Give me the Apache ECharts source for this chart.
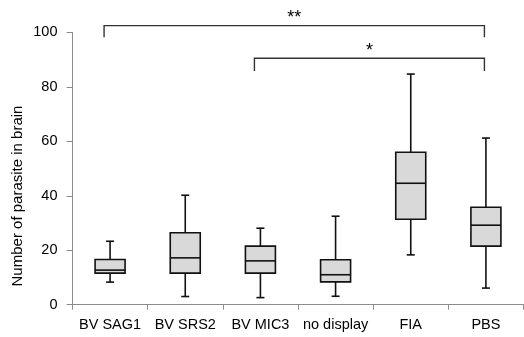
<!DOCTYPE html>
<html>
<head>
<meta charset="utf-8">
<script src="https://cdn.jsdelivr.net/npm/echarts@6/dist/echarts.min.js"></script>
<style>html,body{margin:0;padding:0;background:#fff}#c{width:524px;height:337px}</style>
</head>
<body>
<div id="c"></div>
<script>
const categories = ['BV SAG1', 'BV SRS2', 'BV MIC3', 'no display', 'FIA', 'PBS'];
const mins    = [8.3, 3.0, 2.6, 3.1, 18.3, 6.1];
const q1s     = [11.6, 11.6, 11.6, 8.4, 31.4, 21.5];
const medians = [12.7, 17.2, 16.1, 11.0, 44.6, 29.2];
const q3s     = [16.6, 26.4, 21.5, 16.5, 56.0, 35.8];
const maxs    = [23.3, 40.2, 28.1, 32.5, 84.7, 61.2];
const yTicks  = [0, 20, 40, 60, 80, 100];
const brackets = [
  { from: 'BV SAG1', to: 'PBS', y: 102.5, drop: 98.2, label: '**' },
  { from: 'BV MIC3', to: 'PBS', y: 90.5, drop: 85.8, label: '*' }
];
const yTitle = 'Number of parasite in brain';

const FONT = 'Liberation Sans, Arial, sans-serif';
const chart = echarts.init(document.getElementById('c'), null, { renderer: 'canvas' });

const boxData = categories.map((c, i) => [i, mins[i], q1s[i], medians[i], q3s[i], maxs[i]]);
const bracketData = brackets.map(b => [categories.indexOf(b.from), categories.indexOf(b.to), b.y, b.drop, b.label]);

function renderBox(params, api) {
  const i = api.value(0);
  const pMin = api.coord([i, api.value(1)]);
  const pQ1 = api.coord([i, api.value(2)]);
  const pMed = api.coord([i, api.value(3)]);
  const pQ3 = api.coord([i, api.value(4)]);
  const pMax = api.coord([i, api.value(5)]);
  const cx = pMin[0];
  const hw = 15, cap = 4;
  const ls = { stroke: '#111', lineWidth: 1.6, fill: null };
  return {
    type: 'group',
    children: [
      { type: 'line', shape: { x1: cx, y1: pMin[1], x2: cx, y2: pQ1[1] }, style: ls },
      { type: 'line', shape: { x1: cx, y1: pQ3[1], x2: cx, y2: pMax[1] }, style: ls },
      { type: 'line', shape: { x1: cx - cap, y1: pMin[1], x2: cx + cap, y2: pMin[1] }, style: ls },
      { type: 'line', shape: { x1: cx - cap, y1: pMax[1], x2: cx + cap, y2: pMax[1] }, style: ls },
      { type: 'rect', shape: { x: cx - hw, y: pQ3[1], width: hw * 2, height: pQ1[1] - pQ3[1] },
        style: { fill: '#d9d9d9', stroke: '#111', lineWidth: 1.6 } },
      { type: 'line', shape: { x1: cx - hw, y1: pMed[1], x2: cx + hw, y2: pMed[1] }, style: ls }
    ]
  };
}

function renderBracket(params, api) {
  const a = api.coord([api.value(0), api.value(2)]);
  const b = api.coord([api.value(1), api.value(2)]);
  const bottom = api.coord([api.value(0), api.value(3)])[1];
  const x1 = a[0] - 6, x2 = b[0] - 1.5, y = a[1];
  const label = bracketData[params.dataIndex][4];
  return {
    type: 'group',
    children: [
      { type: 'polyline', shape: { points: [[x1, bottom], [x1, y], [x2, y], [x2, bottom]] },
        style: { stroke: '#333', lineWidth: 1.4, fill: null } },
      { type: 'text', style: { text: label, x: (x1 + x2) / 2, y: y - 7.5, align: 'center', verticalAlign: 'middle',
        fontSize: 18, fontFamily: FONT, fill: '#000' } }
    ]
  };
}

chart.setOption({
  animation: false,
  backgroundColor: '#fff',
  grid: { left: 72.5, right: 0.5, top: 32.4, bottom: 32.3 },
  xAxis: {
    type: 'category',
    data: categories,
    boundaryGap: true,
    axisLine: { lineStyle: { color: '#8c8c8c', width: 1 } },
    axisTick: { show: true, length: 5, lineStyle: { color: '#8c8c8c' } },
    axisLabel: { color: '#000', fontSize: 14.5, fontFamily: FONT, margin: 13, interval: 0 }
  },
  yAxis: {
    type: 'value',
    min: yTicks[0], max: yTicks[yTicks.length - 1], interval: 20,
    splitLine: { show: false },
    axisLine: { show: true, lineStyle: { color: '#8c8c8c', width: 1 } },
    axisTick: { show: true, length: 6, lineStyle: { color: '#8c8c8c' } },
    axisLabel: { color: '#000', fontSize: 14.5, fontFamily: FONT, margin: 15 }
  },
  graphic: [{
    type: 'text', x: 17.5, y: 196, rotation: Math.PI / 2,
    style: { text: yTitle, fontSize: 15, fontFamily: FONT, fill: '#000', align: 'center', verticalAlign: 'middle' }
  }],
  series: [
    { type: 'custom', renderItem: renderBox, data: boxData, encode: { x: 0, y: [1, 2, 3, 4, 5] }, z: 3 },
    { type: 'custom', renderItem: renderBracket, data: bracketData.map(d => d.slice(0, 4)), encode: { x: [0, 1], y: [2, 3] }, clip: false, z: 4 }
  ]
});
</script>
</body>
</html>
